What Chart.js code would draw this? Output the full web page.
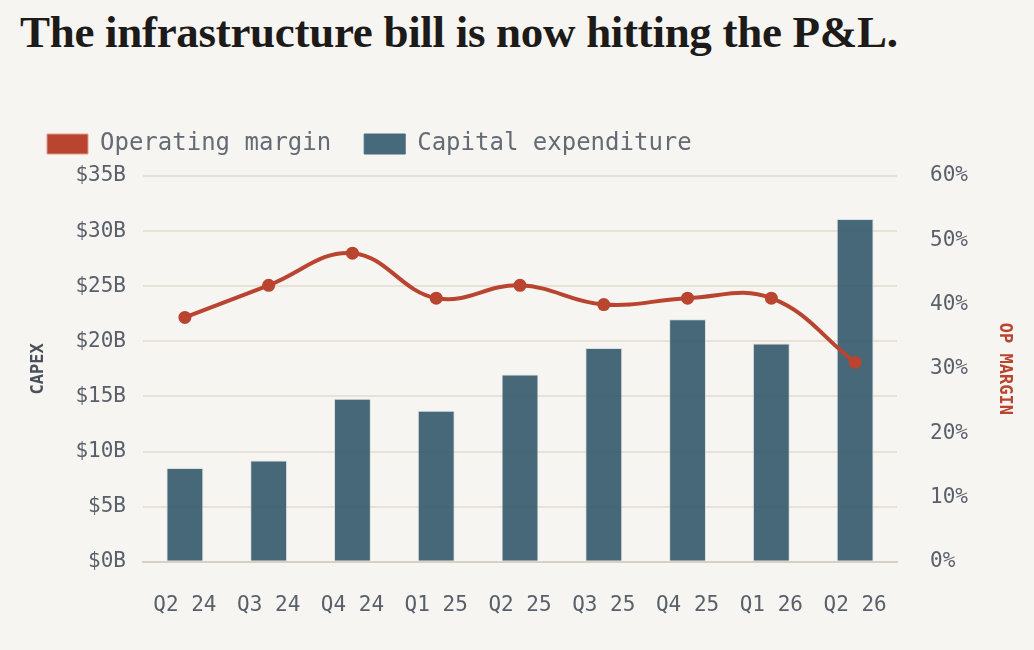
<!DOCTYPE html>
<html>
<head>
<meta charset="utf-8">
<script src="https://cdn.jsdelivr.net/npm/chart.js@4"></script>
<style>
  html, body { margin: 0; padding: 0; background: #f7f5f1; width: 1034px; height: 650px; overflow: hidden; }
  h1 { position: absolute; left: 20px; top: 6px; margin: 0; font-family: "Liberation Serif", "DejaVu Serif", serif; font-weight: bold; font-size: 45px; color: #1d1b1a; letter-spacing: -0.3px; }
  #wrap { position: absolute; left: 0; top: 99px; width: 1034px; height: 551px; }
</style>
</head>
<body>
<h1>The infrastructure bill is now hitting the P&amp;L.</h1>
<div id="wrap"><canvas id="c"></canvas></div>
<script>
// quarters on the x axis
const quarters = ['Q2 24', 'Q3 24', 'Q4 24', 'Q1 25', 'Q2 25', 'Q3 25', 'Q4 25', 'Q1 26', 'Q2 26'];
// capex in $B (left axis)
const capex = [8.5, 9.2, 14.8, 13.7, 17.0, 19.4, 22.0, 19.8, 31.1];
// operating margin in % (right axis)
const opMargin = [38, 43, 48, 41, 43, 40, 41, 41, 31];

const mono = '"DejaVu Sans Mono", "Liberation Mono", monospace';
const tickGrey = '#59606a';
const red = '#b94430';
const teal = 'rgba(46, 84, 103, 0.88)';

// a bit more room under the legend
const legendGap = {
    id: 'legendGap',
    beforeInit(chart) {
        const fit = chart.legend.fit;
        chart.legend.fit = function () { fit.call(this); this.height += 10; };
    }
};

new Chart(document.getElementById('c'), {
    data: {
        labels: quarters,
        datasets: [
            {
                type: 'line',
                label: 'Operating margin',
                data: opMargin,
                yAxisID: 'y1',
                borderColor: red,
                backgroundColor: red,
                borderWidth: 4,
                pointRadius: 6.5,
                pointBackgroundColor: red,
                pointBorderWidth: 0,
                tension: 0.4,
                order: 0
            },
            {
                type: 'bar',
                label: 'Capital expenditure',
                data: capex,
                yAxisID: 'y',
                backgroundColor: teal,
                borderColor: 'rgba(200, 210, 215, 0.6)',
                borderWidth: 1,
                barPercentage: 0.5,
                categoryPercentage: 0.88,
                order: 1
            }
        ]
    },
    plugins: [legendGap],
    options: {
        responsive: true,
        maintainAspectRatio: false,
        animation: false,
        layout: { padding: { left: 14, right: 12, top: 0, bottom: 9 } },
        plugins: {
            legend: {
                align: 'start',
                labels: {
                    font: { family: mono, size: 24 },
                    color: '#656b75',
                    boxWidth: 41,
                    boxHeight: 20,
                    padding: 33,
                    generateLabels: chart => chart.data.datasets.map((ds, i) => ({
                        text: ds.label,
                        fillStyle: i === 0 ? red : '#466a7b',
                        strokeStyle: i === 0 ? '#e09a8c' : '#466a7b',
                        lineWidth: 1,
                        fontColor: '#656b75',
                        datasetIndex: i
                    }))
                }
            },
            tooltip: { enabled: false }
        },
        scales: {
            x: {
                grid: { display: false },
                border: { color: '#d8d0c2', width: 2 },
                ticks: { font: { family: mono, size: 21 }, color: tickGrey, padding: 23 }
            },
            y: {
                position: 'left',
                min: 0, max: 35,
                afterFit: s => { s.width = 129; },
                ticks: { stepSize: 5, font: { family: mono, size: 21 }, color: tickGrey, padding: 17, callback: v => '$' + v + 'B' },
                grid: { color: '#e8e2d6', lineWidth: 2, drawTicks: false },
                border: { display: false },
                title: { display: true, text: 'CAPEX', font: { family: mono, size: 17, weight: 'bold' }, color: '#4a515b', padding: { top: 14, bottom: 4 } }
            },
            y1: {
                position: 'right',
                min: 0, max: 60,
                afterFit: s => { s.width = 125; },
                ticks: { stepSize: 10, font: { family: mono, size: 21 }, color: tickGrey, padding: 33, callback: v => v + '%' },
                grid: { display: false, drawTicks: false },
                border: { display: false },
                title: { display: true, text: 'OP MARGIN', font: { family: mono, size: 17, weight: 'bold' }, color: red, padding: { top: 7, bottom: 4 } }
            }
        }
    }
});
</script>
</body>
</html>
